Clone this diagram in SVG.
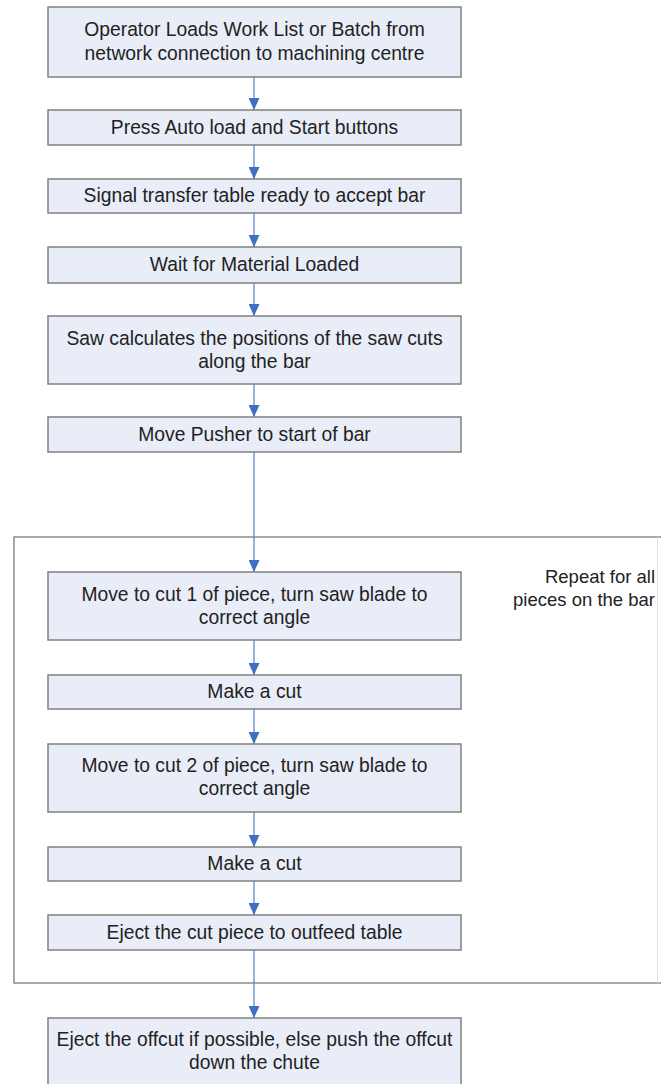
<svg xmlns="http://www.w3.org/2000/svg" width="661" height="1084" viewBox="0 0 661 1084">
  <style>
    .box { fill: #e9edf7; stroke: #808080; stroke-width: 1.5; }
    .lbl { font-family: "Liberation Sans", Arial, sans-serif; font-size: 19.3px; fill: #222; text-anchor: middle; }
    .note { font-family: "Liberation Sans", Arial, sans-serif; font-size: 18.5px; fill: #222; text-anchor: end; }
    .conn { stroke: #4f7fc6; stroke-width: 1.2; fill: none; marker-end: url(#arrow); }
    .frame { stroke: #8c8c8c; stroke-width: 1.5; fill: none; }
  </style>
  <defs>
    <marker id="arrow" markerUnits="userSpaceOnUse" viewBox="0 0 12 11" refX="12" refY="5.5" markerWidth="12" markerHeight="11" orient="auto">
      <path d="M0,0 L12,5.5 L0,11 z" fill="#3f6fc0"/>
    </marker>
  </defs>
  <rect width="661" height="1084" fill="#ffffff"/>

  <!-- loop frame around the per-piece steps -->
  <g id="loop-frame">
    <path class="frame" d="M661,537 H14 V983 H661"/>
    <line x1="657.5" y1="537" x2="657.5" y2="983" stroke="#e4e4e4" stroke-width="1"/>
    <text class="note" x="655" y="583">Repeat for all</text>
    <text class="note" x="655" y="606">pieces on the bar</text>
  </g>

  <!-- connectors -->
  <g id="connectors">
    <line class="conn" x1="254" y1="77" x2="254" y2="110"/>
    <line class="conn" x1="254" y1="145" x2="254" y2="179"/>
    <line class="conn" x1="254" y1="213" x2="254" y2="247"/>
    <line class="conn" x1="254" y1="283" x2="254" y2="316"/>
    <line class="conn" x1="254" y1="384" x2="254" y2="417"/>
    <line class="conn" x1="254" y1="452" x2="254" y2="572"/>
    <line class="conn" x1="254" y1="640" x2="254" y2="675"/>
    <line class="conn" x1="254" y1="709" x2="254" y2="744"/>
    <line class="conn" x1="254" y1="812" x2="254" y2="847"/>
    <line class="conn" x1="254" y1="881" x2="254" y2="915"/>
    <line class="conn" x1="254" y1="950" x2="254" y2="1018"/>
  </g>

  <g id="load-worklist">
    <rect class="box" x="48" y="7" width="413" height="70"/>
    <text class="lbl" x="254.5" y="36">Operator Loads Work List or Batch from</text>
    <text class="lbl" x="254.5" y="60">network connection to machining centre</text>
  </g>
  <g id="press-start">
    <rect class="box" x="48" y="110" width="413" height="35"/>
    <text class="lbl" x="254.5" y="134">Press Auto load and Start buttons</text>
  </g>
  <g id="signal-ready">
    <rect class="box" x="48" y="179" width="413" height="34"/>
    <text class="lbl" x="254.5" y="202">Signal transfer table ready to accept bar</text>
  </g>
  <g id="wait-loaded">
    <rect class="box" x="48" y="247" width="413" height="36"/>
    <text class="lbl" x="254.5" y="271">Wait for Material Loaded</text>
  </g>
  <g id="calc-cuts">
    <rect class="box" x="48" y="316" width="413" height="68"/>
    <text class="lbl" x="254.5" y="345">Saw calculates the positions of the saw cuts</text>
    <text class="lbl" x="254.5" y="368">along the bar</text>
  </g>
  <g id="move-pusher">
    <rect class="box" x="48" y="417" width="413" height="35"/>
    <text class="lbl" x="254.5" y="441">Move Pusher to start of bar</text>
  </g>
  <g id="move-cut1">
    <rect class="box" x="48" y="572" width="413" height="68"/>
    <text class="lbl" x="254.5" y="601">Move to cut 1 of piece, turn saw blade to</text>
    <text class="lbl" x="254.5" y="624">correct angle</text>
  </g>
  <g id="make-cut1">
    <rect class="box" x="48" y="675" width="413" height="34"/>
    <text class="lbl" x="254.5" y="698">Make a cut</text>
  </g>
  <g id="move-cut2">
    <rect class="box" x="48" y="744" width="413" height="68"/>
    <text class="lbl" x="254.5" y="772">Move to cut 2 of piece, turn saw blade to</text>
    <text class="lbl" x="254.5" y="795">correct angle</text>
  </g>
  <g id="make-cut2">
    <rect class="box" x="48" y="847" width="413" height="34"/>
    <text class="lbl" x="254.5" y="870">Make a cut</text>
  </g>
  <g id="eject-piece">
    <rect class="box" x="48" y="915" width="413" height="35"/>
    <text class="lbl" x="254.5" y="939">Eject the cut piece to outfeed table</text>
  </g>
  <g id="eject-offcut">
    <rect class="box" x="48" y="1018" width="413" height="70"/>
    <text class="lbl" x="254.5" y="1046">Eject the offcut if possible, else push the offcut</text>
    <text class="lbl" x="254.5" y="1069">down the chute</text>
  </g>
</svg>
